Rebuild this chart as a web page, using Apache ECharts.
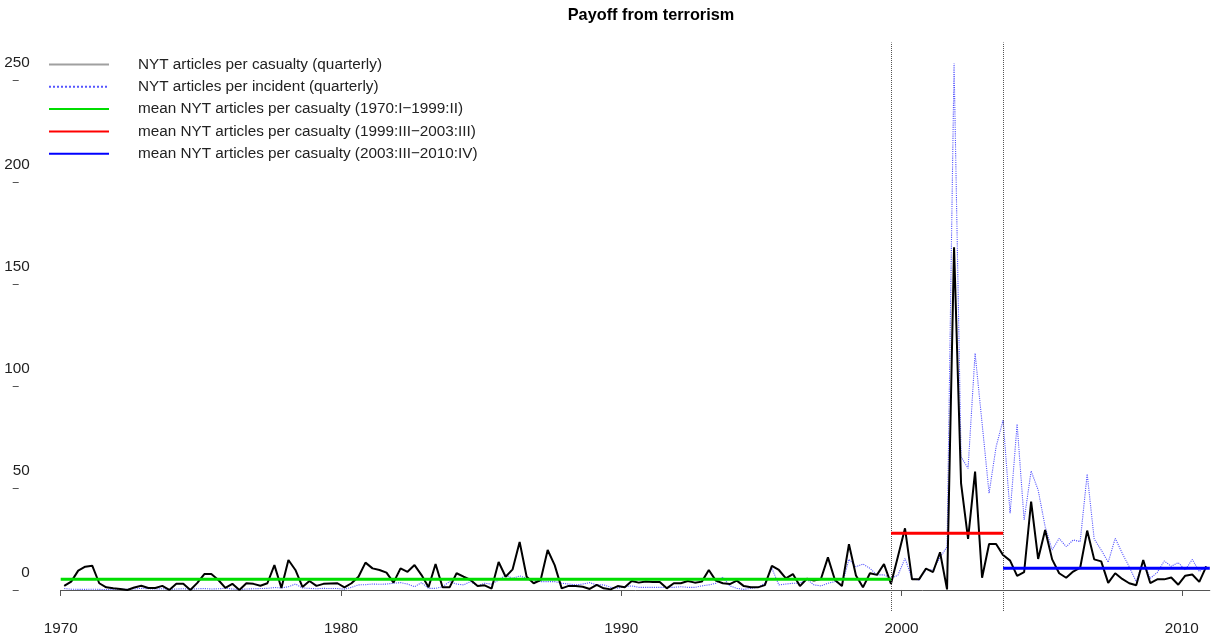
<!DOCTYPE html>
<html><head><meta charset="utf-8">
<script src="https://cdn.jsdelivr.net/npm/echarts@6/dist/echarts.min.js"></script>
<style>html,body{margin:0;padding:0;background:#fff}#chart{width:1213px;height:641px}</style>
</head><body><div id="chart"></div>
<script>
// ---- data ----
const startYear = 1970; // quarterly series 1970:I .. 2010:IV
const perCasualty = [
  2.0,4.1,9.5,11.4,11.9,3.3,1.3,0.8,0.5,0,1.2,2.1,1.0,1.0,2.0,0,3.0,3.0,0,3.5,
  7.8,7.8,4.9,1.0,3.0,0,3.3,3.0,2.1,3.3,12.2,1.0,14.7,9.8,1.5,4.4,2.0,3.0,3.2,
  3.3,1.3,3.3,6.5,13.4,10.6,9.8,8.5,3.6,10.6,8.9,12.2,7.3,1.3,12.7,1.3,1.3,8.2,6.5,4.9,
  2.0,2.3,0.7,13.7,6.5,10.1,23.5,6.5,3.3,4.9,19.6,12.2,0.8,2.0,2.0,1.6,0.5,2.5,0.8,
  0.3,1.9,1.3,4.4,3.6,4.2,3.9,3.9,0.8,3.3,3.3,4.4,3.6,4.1,9.8,4.6,3.3,2.9,4.6,1.9,
  1.3,1.3,2.4,11.8,9.8,5.7,7.8,1.9,5.5,4.6,5.4,16.0,4.9,1.9,22.4,7.1,1.3,8.2,7.4,12.7,
  3.0,16.5,30.2,5.2,5.2,10.5,8.8,18.5,0.3,168,52.3,25.0,58.0,6.0,22.5,22.5,17.1,14.4,6.9,8.7,
  43.3,15.2,29.4,15.0,8.2,6.0,9.0,10.9,29.1,15,14,3.5,8.2,5.4,3.3,2.3,14.7,3.4,5.2,5.2,
  6.1,2.6,7.0,7.6,4.0,11.6
];
const perIncident = [
  0.7,0.4,0.3,0.3,0.4,0.3,0.2,0.3,0.5,0.3,0.5,0.8,0.6,0.5,0.6,0.3,0.5,0.6,0.4,0.6,
  0.7,0.5,0.6,0.8,0.5,0.2,0.5,0.6,0.7,0.8,1.2,1.0,1.6,2.9,1.0,0.8,0.6,0.8,0.7,
  0.7,0.4,1.3,2.5,2.6,2.9,2.8,2.9,3.3,3.6,2.9,1.6,3.6,0.8,0.8,1.6,4.1,2.9,2.5,4.1,
  2.0,3.3,2.9,4.9,7.3,5.7,6.9,5.7,4.9,4.1,4.1,4.1,3.3,2.9,2.5,2.9,3.6,2.5,2.5,1.3,
  0.9,1.6,2.0,1.3,1.3,1.3,1.3,1.3,1.3,1.6,1.3,1.3,2.0,2.5,3.3,6.3,2.0,0.8,0.3,0.8,
  1.3,3.3,10.6,2.5,2.9,3.3,3.3,5.2,2.5,2.0,3.3,4.1,2.5,15.0,11.4,12.7,10.6,7.4,7.4,
  5.7,7.3,15.5,5.7,4.9,10.1,9.8,16.0,21.2,258,65.3,59.6,116.0,81.7,47.4,70.2,83.3,37.6,81.3,34.3,
  58.3,49.0,31.0,19.6,25.3,21.2,24.5,23.7,56.8,25.0,19.6,13.6,25.3,18.0,11.4,4.1,14.0,5.7,8.6,14.2,
  11.6,13.4,9.8,15.0,9.0,11.8
];
const seriesNames = ['NYT articles per casualty (quarterly)', 'NYT articles per incident (quarterly)'];
const meanLabels = ['1970:I\u22121999:II', '1999:III\u22122003:III', '2003:III\u22122010:IV'];
const meanValues = [5.2, 27.8, 10.6];
const meanFrom = [1970, 1999.625, 2003.625];
const meanTo = [1999.625, 2003.625, 2011];
const breakYears = [1999.625, 2003.625];
const xTicks = [1970, 1980, 1990, 2000, 2010];
const yTicks = [0, 50, 100, 150, 200, 250];

// ---- styling ----
const FONT = '"Liberation Sans", Arial, sans-serif';
const meanColors = ['#00dd00', '#ff0000', '#0000ff'];
const hiddenSymbol = { color: 'rgba(0,0,0,0)', borderWidth: 0, opacity: 0 };
const toXY = arr => arr.map((v, i) => [startYear + (i + 0.5) / 4, v]);

const meanSeries = meanValues.map((v, k) => ({
  name: 'mean NYT articles per casualty (' + meanLabels[k] + ')',
  type: 'line', symbol: 'none', z: 5, silent: true,
  data: [[meanFrom[k], v], [meanTo[k], v]],
  lineStyle: { color: meanColors[k], width: 3 },
  itemStyle: { color: meanColors[k] }
}));

const chart = echarts.init(document.getElementById('chart'), null, { renderer: 'canvas' });
chart.setOption({
  animation: false,
  backgroundColor: '#ffffff',
  title: {
    text: 'Payoff from terrorism', left: 646, top: 3, textAlign: 'center',
    textStyle: { fontFamily: FONT, fontSize: 16.3, fontWeight: 'bold', color: '#000' }
  },
  legend: {
    orient: 'vertical', left: 43, top: 51.5, itemWidth: 60, itemHeight: 14, itemGap: 6.3,
    selectedMode: false,
    itemStyle: hiddenSymbol,
    textStyle: { fontFamily: FONT, fontSize: 15.3, color: '#222', lineHeight: 16, padding: [0, 0, 0, 24] },
    data: [
      { name: seriesNames[0], lineStyle: { color: '#a0a0a0', width: 2 }, itemStyle: hiddenSymbol },
      { name: seriesNames[1], itemStyle: hiddenSymbol },
      { name: meanSeries[0].name, itemStyle: hiddenSymbol },
      { name: meanSeries[1].name, itemStyle: hiddenSymbol },
      { name: meanSeries[2].name, itemStyle: hiddenSymbol }
    ]
  },
  grid: { left: 60.7, right: 3.2, top: 42.5, bottom: 30, outerBoundsMode: 'none' },
  xAxis: {
    type: 'value', min: 1970, max: 2011,
    axisLine: { show: true, lineStyle: { color: '#555', width: 1 } },
    axisTick: { show: true, length: 6, customValues: xTicks, lineStyle: { color: '#555' } },
    axisLabel: {
      customValues: xTicks, margin: 10, fontFamily: FONT, fontSize: 15.3, color: '#222',
      formatter: v => String(v)
    },
    splitLine: { show: false }
  },
  yAxis: {
    type: 'value', min: -10.3, max: 268.3, offset: 42,
    axisLine: { show: false },
    axisTick: { show: true, length: 6, customValues: yTicks, lineStyle: { color: '#555' } },
    axisLabel: {
      customValues: yTicks, align: 'right', verticalAlign: 'bottom', margin: -11,
      padding: [0, 0, 10, 0], lineHeight: 15,
      fontFamily: FONT, fontSize: 15.3, color: '#222',
      formatter: v => String(v)
    },
    splitLine: { show: false }
  },
  series: [
    {
      name: seriesNames[1], type: 'line', symbol: 'none', z: 2, silent: true,
      data: toXY(perIncident),
      lineStyle: { color: '#5555ff', width: 1.1, type: 'dotted' },
      itemStyle: { color: '#5555ff' }
    },
    {
      name: seriesNames[0], type: 'line', symbol: 'none', z: 3, silent: true,
      data: toXY(perCasualty),
      lineStyle: { color: '#000000', width: 2 },
      itemStyle: { color: '#000000' },
      markLine: {
        silent: true, symbol: ['none', 'none'], label: { show: false },
        lineStyle: { color: '#555', width: 1, type: 'dotted' },
        data: breakYears.map(x => ({ xAxis: x }))
      }
    },
    ...meanSeries
  ]
});
</script></body></html>
